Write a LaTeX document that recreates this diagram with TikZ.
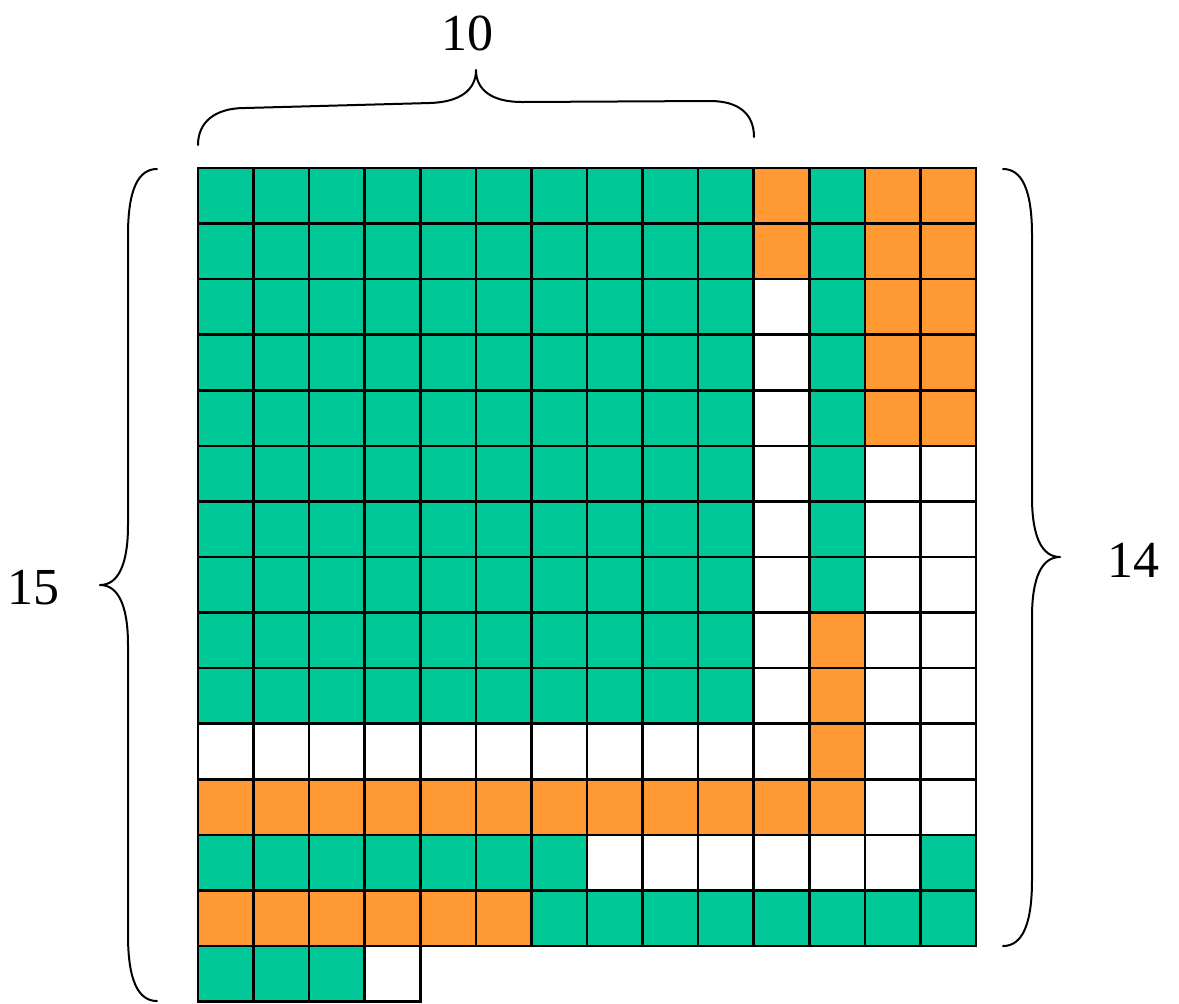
\documentclass[tikz,border=0pt]{standalone}
\usepackage{fontspec}
\setmainfont{Liberation Serif}
\definecolor{cgreen}{HTML}{00C896}
\definecolor{corange}{HTML}{FF9933}
\begin{document}
\begin{tikzpicture}[x=0.5pt,y=-0.5pt,
  lbl/.style={font=\fontsize{26}{30}\selectfont, inner sep=0pt},
  bracestyle/.style={line width=1pt, line cap=round, line join=round},
  gridline/.style={line width=1.3pt, black, line cap=rect}]
\useasboundingbox (0,0) rectangle (1179,1003);
\begin{scope}[shift={(198,168)}, x=27.785pt, y=-27.785pt]
  % green fills
  \fill[cgreen] (0,0) rectangle (10,10);
  \fill[cgreen] (11,0) rectangle (12,8);
  \fill[cgreen] (0,12) rectangle (7,13);
  \fill[cgreen] (13,12) rectangle (14,13);
  \fill[cgreen] (6,13) rectangle (14,14);
  \fill[cgreen] (0,14) rectangle (3,15);
  % orange fills
  \fill[corange] (10,0) rectangle (11,2);
  \fill[corange] (12,0) rectangle (14,5);
  \fill[corange] (11,8) rectangle (12,11);
  \fill[corange] (0,11) rectangle (12,12);
  \fill[corange] (0,13) rectangle (6,14);
  % grid
  \foreach \i in {0,...,14} {
    \draw[gridline] (\i,0) -- (\i,14);
    \draw[gridline] (0,\i) -- (14,\i);
  }
  \foreach \i in {0,...,4} \draw[gridline] (\i,14) -- (\i,15);
  \draw[gridline] (0,15) -- (4,15);
\end{scope}
% top brace
\draw[bracestyle] (198,145) .. controls (198,122) and (215,108) .. (245,108)
  -- (430,103) .. controls (460,102) and (476,90) .. (476,70)
  .. controls (476,90) and (492,102) .. (522,102)
  -- (710,101) .. controls (740,101) and (754,115) .. (754,137);
% left brace
\draw[bracestyle] (157,169) .. controls (138,169) and (128,190) .. (128,235)
  -- (128,525) .. controls (128,565) and (118,585) .. (100,585)
  .. controls (118,585) and (128,605) .. (128,645)
  -- (128,935) .. controls (128,980) and (138,1001) .. (157,1001);
% right brace
\draw[bracestyle] (1003,169) .. controls (1022,169) and (1032,190) .. (1032,235)
  -- (1032,497) .. controls (1032,537) and (1042,557) .. (1060,557)
  .. controls (1042,557) and (1032,577) .. (1032,617)
  -- (1032,880) .. controls (1032,925) and (1022,946) .. (1003,946);
\node[lbl] (ltop) at (467,33) {10};
\node[lbl] (lleft) at (33,588) {15};
\node[lbl] (lright) at (1133,560) {14};
\end{tikzpicture}
\end{document}
